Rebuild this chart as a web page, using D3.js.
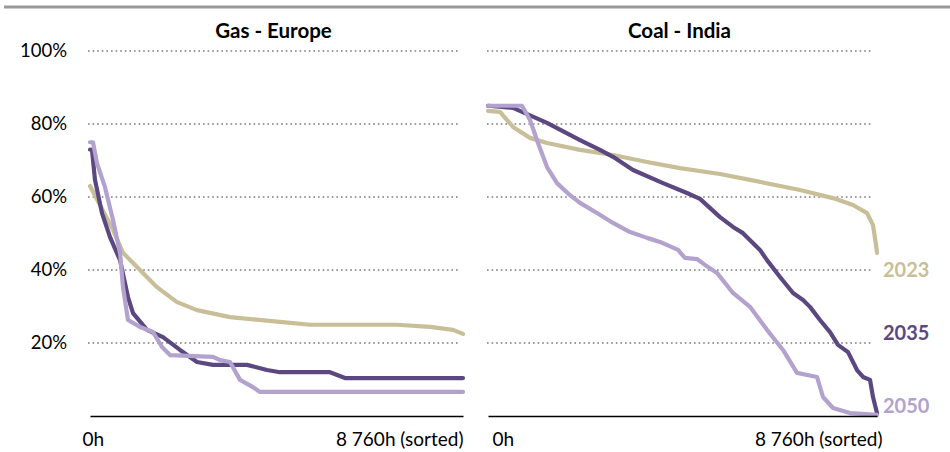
<!DOCTYPE html>
<html><head><meta charset="utf-8">
<script src="https://cdn.jsdelivr.net/npm/d3@7"></script>
<style>
html,body{margin:0;padding:0;background:#fff;}
svg{display:block;font-family:Lato,"Open Sans",sans-serif;}
</style></head>
<body><svg id="c" width="950" height="452"></svg>
<script>
// ---- data (hours sorted, capacity factor %) ----
const panelTitles = ["Gas - Europe", "Coal - India"];
const years = ["2023", "2035", "2050"];
const yTicks = [20, 40, 60, 80, 100];
const yTickLabels = ["20%", "40%", "60%", "80%", "100%"];
const xTickValues = [0, 8760];
const xTickLabels = ["0h", "8 760h (sorted)"];

const gas2023 = [[0,63],[540,51],[775,44.7],[1174,40],[1573,35.3],[2043,31.2],[2513,29],[3288,27.1],[4462,25.8],[5167,25],[7210,25],[7985,24.4],[8525,23.6],[8760,22.5]];
const gas2035 = [[0,73],[47,72.9],[117,64.7],[282,55.6],[470,49],[705,42.7],[892,32.6],[1010,28.2],[1339,23.6],[1714,21.6],[2114,18.1],[2513,14.8],[2889,14],[3687,14],[4157,12.6],[4462,12],[5636,12],[5989,10.4],[8760,10.4]];
const gas2050 = [[0,75],[70,75],[164,69.3],[352,62.7],[540,53.7],[705,44.7],[775,35.3],[892,26.3],[1174,24.4],[1480,23],[1691,18.9],[1879,16.7],[2889,16.2],[3053,15.3],[3288,14.8],[3523,9.9],[3828,7.9],[3992,6.6],[8760,6.6]];

const coal2023 = [[0,83.6],[270,83.3],[563,79.2],[946,76.2],[1329,74.8],[2072,72.9],[2815,71.5],[3581,69.6],[4324,67.9],[5225,66.3],[5900,64.7],[7026,61.9],[7769,59.7],[8220,57.8],[8535,55.6],[8670,52.3],[8737,47],[8760,44.7]];
const coal2035 = [[0,85],[563,84.4],[1329,80.3],[2072,75.6],[2522,72.9],[2815,71],[3266,67.4],[3941,63.8],[4481,61.1],[4774,59.5],[5225,54.5],[5517,51.8],[5742,50.1],[6125,45.5],[6283,42.7],[6576,38.1],[6869,33.7],[7094,31.8],[7251,29.9],[7476,26.3],[7702,23],[7882,19.5],[8107,17.5],[8310,12.6],[8445,10.7],[8603,9.9],[8670,5.2],[8760,0.8]];
const coal2050 = [[0,85],[766,85],[946,81.1],[1126,74.8],[1329,68.2],[1554,63.8],[1847,60.5],[2072,58.4],[2455,55.6],[2815,52.9],[3198,50.4],[3581,48.8],[3873,47.7],[4279,45.5],[4436,43.3],[4707,43],[4887,41.4],[5157,39.2],[5517,33.7],[5900,29.9],[6283,23.6],[6643,18.1],[6959,11.8],[7409,10.7],[7544,5.2],[7769,2.2],[8152,0.8],[8760,0.3]];

const gasSeries = [gas2023, gas2035, gas2050];
const coalSeries = [coal2023, coal2035, coal2050];

// ---- styling ----
const colors = {"2023":"#c8bf98","2035":"#5c4880","2050":"#b2a2cd"};
const svg = d3.select("#c");

// top rule
svg.append("line").attr("x1",4).attr("x2",950).attr("y1",7).attr("y2",7)
  .attr("stroke","#9a9a9a").attr("stroke-width",3);

const y = d3.scaleLinear().domain([0,100]).range([416,51]);

const panels = [
  {title:panelTitles[0], series:gasSeries, range:[90,463], grid:[88,458], labelShift:[-8,0]},
  {title:panelTitles[1], series:coalSeries, range:[488,877], grid:[487,873], labelShift:[4,5]}
];

panels.forEach((p,pi)=>{
  const x = d3.scaleLinear().domain([0,8760]).range(p.range);
  const g = svg.append("g");
  // gridlines
  g.selectAll("line.grid").data(yTicks).enter().append("line")
    .attr("x1",p.grid[0]).attr("x2",p.grid[1])
    .attr("y1",d=>y(d)).attr("y2",d=>y(d))
    .attr("stroke","#9b9b9b").attr("stroke-width",2)
    .attr("stroke-dasharray","1.6,3");
  // title
  g.append("text").attr("x",(p.range[0]+p.range[1])/2 - 3).attr("y",38)
    .attr("text-anchor","middle").attr("font-weight","bold").attr("font-size",20.5)
    .attr("fill","#000").text(p.title);
  // lines
  const line = d3.line().x(d=>x(d[0])).y(d=>y(d[1]));
  p.series.forEach((s,i)=>{
    g.append("path").datum(s).attr("d",line).attr("fill","none")
      .attr("stroke",colors[years[i]]).attr("stroke-width",4.2)
      .attr("stroke-linejoin","round").attr("stroke-linecap","round");
  });
  // x axis
  const ax = g.append("g").attr("transform",`translate(0,${y(0)})`)
    .call(d3.axisBottom(x).tickValues(xTickValues).tickSize(0).tickSizeOuter(0)
      .tickFormat((d,i)=>xTickLabels[i]));
  ax.select(".domain").attr("stroke","#000").attr("stroke-width",1.6);
  ax.selectAll(".tick text").attr("font-family","Lato, 'Open Sans', sans-serif")
    .attr("font-size",19).attr("fill","#000").attr("dy",null).attr("y",30)
    .attr("text-anchor",(d,i)=>i===0?"start":"end")
    .attr("dx",(d,i)=>p.labelShift[i]);
  // y axis labels on left panel only
  if(pi===0){
    const ya = g.append("g").attr("transform","translate(67,0)")
      .call(d3.axisLeft(y).tickValues(yTicks).tickSize(0).tickPadding(0)
        .tickFormat((d,i)=>yTickLabels[i]));
    ya.select(".domain").remove();
    ya.selectAll(".tick text").attr("font-family","Lato, 'Open Sans', sans-serif")
      .attr("font-size",18.5).attr("fill","#000");
  }
  // series labels on right panel
  if(pi===1){
    const labelY = [277,340,413];
    years.forEach((yr,i)=>{
      g.append("text").attr("x",883).attr("y",labelY[i])
        .attr("font-weight","bold").attr("font-size",20)
        .attr("fill",colors[yr]).text(yr);
    });
  }
});
</script></body></html>
